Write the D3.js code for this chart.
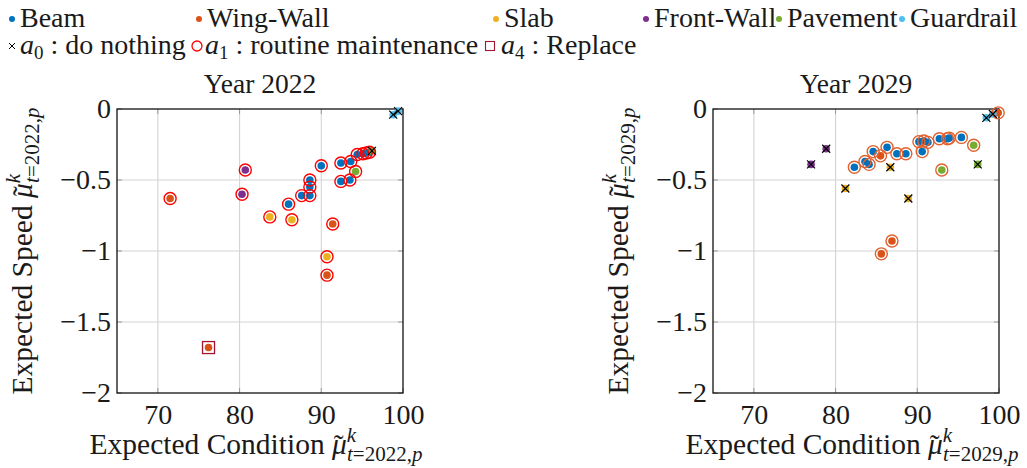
<!DOCTYPE html>
<html>
<head>
<meta charset="utf-8">
<script src="https://cdn.jsdelivr.net/npm/d3@7"></script>
<style>
  body { margin: 0; background: #fff; }
  svg text { font-family: "Liberation Serif", "DejaVu Serif", serif; fill: #1a1a1a; }
</style>
</head>
<body>
<div id="vis"></div>
<script>
// components and their colours
const components = ["Beam", "Wing-Wall", "Slab", "Front-Wall", "Pavement", "Guardrail"];
const compColors = ["#0072BD", "#D95319", "#EDB120", "#7E2F8E", "#77AC30", "#4DBEEE"];

// actions shown in the legend
const actionKeys = ["a0", "a1", "a4"];
const actionNames = ["do nothing", "routine maintenance", "Replace"];

const xTicks = [70, 80, 90, 100];
const yTicks = [0, -0.5, -1, -1.5, -2];
const years = [2022, 2029];

// year 2022 : condition, speed, component, action
const cond2022 = [90.0, 88.6, 88.6, 88.6, 87.6, 86.0, 92.4, 93.6, 92.4, 93.5, 94.4, 95.1, 95.5, 95.9,
                  96.2, 94.2, 80.7, 80.3, 71.5, 83.7, 86.4, 91.4, 90.7, 90.7, 76.2, 98.8, 99.4];
const speed2022 = [-0.40, -0.50, -0.55, -0.61, -0.61, -0.67, -0.38, -0.37, -0.51, -0.50, -0.32, -0.315, -0.31, -0.305,
                   -0.295, -0.44, -0.43, -0.60, -0.63, -0.76, -0.78, -0.81, -1.04, -1.17, -1.68, -0.04, -0.015];
const comp2022 = ["Beam", "Beam", "Beam", "Beam", "Beam", "Beam", "Beam", "Beam", "Beam", "Beam", "Beam", "Beam", "Beam", "Beam",
                  "Pavement", "Pavement", "Front-Wall", "Front-Wall", "Wing-Wall", "Slab", "Slab", "Wing-Wall", "Slab", "Wing-Wall", "Wing-Wall", "Guardrail", "Guardrail"];
const act2022 = ["a1", "a1", "a1", "a1", "a1", "a1", "a1", "a1", "a1", "a1", "a1", "a1", "a1", "a1",
                 "a0", "a1", "a1", "a1", "a1", "a1", "a1", "a1", "a1", "a1", "a4", "a0", "a0"];

// year 2029
const cond2029 = [99.9, 99.25, 98.45, 78.85, 77.0, 82.3, 83.6, 84.1, 84.6, 85.5, 86.3, 86.7, 81.2, 88.9, 87.5,
                  88.6, 90.6, 90.2, 90.8, 91.3, 92.7, 93.7, 93.9, 95.4, 96.9, 97.4, 93.0, 86.9, 85.6];
const speed2029 = [-0.027, -0.035, -0.062, -0.28, -0.39, -0.41, -0.37, -0.39, -0.30, -0.33, -0.27, -0.41, -0.56, -0.63, -0.315,
                   -0.315, -0.30, -0.23, -0.225, -0.235, -0.21, -0.21, -0.205, -0.20, -0.255, -0.39, -0.43, -0.93, -1.02];
const comp2029 = ["Wing-Wall", "Guardrail", "Guardrail", "Front-Wall", "Front-Wall", "Beam", "Beam", "Beam", "Beam", "Wing-Wall", "Beam", "Slab", "Slab", "Slab", "Beam",
                  "Beam", "Beam", "Beam", "Beam", "Beam", "Beam", "Beam", "Beam", "Beam", "Pavement", "Pavement", "Pavement", "Wing-Wall", "Wing-Wall"];
const act2029 = ["a1", "a0", "a0", "a0", "a0", "a1", "a1", "a1", "a1", "a1", "a1", "a0", "a0", "a0", "a1",
                 "a1", "a1", "a1", "a1", "a1", "a1", "a1", "a1", "a1", "a1", "a0", "a1", "a1", "a1"];

const toRows = (c, s, k, a) => c.map((v, i) => ({cond: v, speed: s[i], comp: k[i], act: a[i]}));
const data = [toRows(cond2022, speed2022, comp2022, act2022), toRows(cond2029, speed2029, comp2029, act2029)];

const W = 1027, H = 468;
const tickSize = 28, labelSize = 29.5, titleSize = 27.5, legendSize = 28;
const colorOf = d3.scaleOrdinal(components, compColors);
const circleColors = ["#FF0000", "#E2612E"];

const svg = d3.select("#vis").append("svg").attr("width", W).attr("height", H)
  .attr("font-family", "'Liberation Serif', serif");
svg.append("rect").attr("width", W).attr("height", H).attr("fill", "#fff");

// panel frames
const panels = [{left: 117, right: 403}, {left: 713, right: 999}];
const plotTop = 109, plotBottom = 393;

const xPath = d => `M${-4},${-4}L4,4M${-4},4L4,${-4}`;

// helper: text with math mu tilde + sup k + sub
const mathLabel = (sel, prefix, year) => {
  sel.append("tspan").text(prefix);
  sel.append("tspan").attr("font-style", "italic").text("\u03BC");
  sel.append("tspan").attr("dx", -13).attr("dy", 1).text("\u02DC");
  sel.append("tspan").attr("font-size", 21).attr("font-style", "italic").attr("dx", 3).attr("dy", -13).text("k");
  sel.append("tspan").attr("font-size", 21).attr("dx", -9).attr("dy", 19)
    .html(`<tspan font-style="italic">t</tspan>=${year},<tspan font-style="italic">p</tspan>`);
};

panels.forEach((p, pi) => {
  const x = d3.scaleLinear().domain([65, 100]).range([p.left, p.right]);
  const y = d3.scaleLinear().domain([-2, 0]).range([plotBottom, plotTop]);
  const g = svg.append("g");

  // grid
  g.selectAll("line.gx").data(xTicks.filter(t => t < 100)).enter().append("line")
    .attr("x1", d => x(d)).attr("x2", d => x(d)).attr("y1", plotTop).attr("y2", plotBottom)
    .attr("stroke", "#d4d4d4").attr("stroke-width", 1.1);
  g.selectAll("line.gy").data(yTicks.filter(t => t > -2 && t < 0)).enter().append("line")
    .attr("y1", d => y(d)).attr("y2", d => y(d)).attr("x1", p.left).attr("x2", p.right)
    .attr("stroke", "#d4d4d4").attr("stroke-width", 1.1);

  // inner tick marks
  xTicks.forEach(t => {
    g.append("line").attr("x1", x(t)).attr("x2", x(t)).attr("y1", plotTop).attr("y2", plotTop + 5).attr("stroke", "#999");
    g.append("line").attr("x1", x(t)).attr("x2", x(t)).attr("y1", plotBottom).attr("y2", plotBottom - 5).attr("stroke", "#999");
  });
  yTicks.forEach(t => {
    g.append("line").attr("y1", y(t)).attr("y2", y(t)).attr("x1", p.left).attr("x2", p.left + 5).attr("stroke", "#999");
    g.append("line").attr("y1", y(t)).attr("y2", y(t)).attr("x1", p.right).attr("x2", p.right - 5).attr("stroke", "#999");
  });

  // axes labels via d3 axes
  g.append("g").attr("transform", `translate(0,${plotBottom})`)
    .call(d3.axisBottom(x).tickValues(xTicks).tickSize(0).tickPadding(11).tickFormat(d3.format("d")))
    .call(a => a.select(".domain").remove())
    .call(a => a.attr("font-family", null).attr("font-size", null))
    .selectAll("text").attr("font-size", tickSize).attr("fill", null);
  g.append("g").attr("transform", `translate(${p.left},0)`)
    .call(d3.axisLeft(y).tickValues(yTicks).tickSize(0).tickPadding(6).tickFormat(d3.format("")))
    .call(a => a.select(".domain").remove())
    .call(a => a.attr("font-family", null).attr("font-size", null))
    .selectAll("text").attr("font-size", tickSize).attr("fill", null);

  // frame
  g.append("rect").attr("x", p.left).attr("y", plotTop).attr("width", p.right - p.left).attr("height", plotBottom - plotTop)
    .attr("fill", "none").attr("stroke", "#111").attr("stroke-width", 1.3);

  // title
  g.append("text").attr("x", (p.left + p.right) / 2).attr("y", 93).attr("text-anchor", "middle")
    .attr("font-size", titleSize).text(`Year ${years[pi]}`);

  // x label
  const xl = g.append("text").attr("x", (p.left + p.right) / 2 - 4).attr("y", 454).attr("text-anchor", "middle")
    .attr("font-size", labelSize);
  mathLabel(xl, "Expected Condition ", years[pi]);

  // y label
  const yl = g.append("text").attr("transform", `translate(${p.left - 85},${(plotTop + plotBottom) / 2}) rotate(-90)`)
    .attr("text-anchor", "middle").attr("font-size", labelSize);
  mathLabel(yl, "Expected Speed ", years[pi]);

  // dots
  const rows = data[pi];
  g.selectAll("circle.dot").data(rows).enter().append("circle")
    .attr("cx", d => x(d.cond)).attr("cy", d => y(d.speed)).attr("r", 3.8)
    .attr("fill", d => colorOf(d.comp));

  // action markers
  g.selectAll("circle.a1").data(rows.filter(d => d.act === "a1")).enter().append("circle")
    .attr("cx", d => x(d.cond)).attr("cy", d => y(d.speed)).attr("r", 6)
    .attr("fill", "none").attr("stroke", circleColors[pi]).attr("stroke-width", 1.4);
  g.selectAll("path.a0").data(rows.filter(d => d.act === "a0")).enter().append("path")
    .attr("transform", d => `translate(${x(d.cond)},${y(d.speed)})`)
    .attr("d", xPath).attr("stroke", "#000").attr("stroke-width", 1.2);
  g.selectAll("rect.a4").data(rows.filter(d => d.act === "a4")).enter().append("rect")
    .attr("x", d => x(d.cond) - 6).attr("y", d => y(d.speed) - 6).attr("width", 12).attr("height", 12)
    .attr("fill", "none").attr("stroke", "#A2142F").attr("stroke-width", 1.3);
});

// legend row 1: components
const legX1 = [12, 199, 496, 646, 779, 902];
const leg1 = svg.append("g");
components.forEach((c, i) => {
  leg1.append("circle").attr("cx", legX1[i]).attr("cy", 19).attr("r", 3).attr("fill", compColors[i]);
  leg1.append("text").attr("x", legX1[i] + 8).attr("y", 27).attr("font-size", legendSize).text(c);
});

// legend row 2: actions
const legX2 = [12, 197, 490];
const leg2 = svg.append("g");
leg2.append("path").attr("transform", `translate(${legX2[0]},46)`).attr("d", "M-3,-3L3,3M-3,3L3,-3")
  .attr("stroke", "#000").attr("stroke-width", 1);
leg2.append("circle").attr("cx", legX2[1]).attr("cy", 46).attr("r", 5)
  .attr("fill", "none").attr("stroke", "#FF0000").attr("stroke-width", 1.3);
leg2.append("rect").attr("x", legX2[2] - 4.5).attr("y", 41.5).attr("width", 9).attr("height", 9)
  .attr("fill", "none").attr("stroke", "#A2142F").attr("stroke-width", 1.1);
actionKeys.forEach((k, i) => {
  const t = leg2.append("text").attr("x", legX2[i] + (i === 2 ? 11 : 8)).attr("y", 54).attr("font-size", legendSize);
  t.append("tspan").attr("font-style", "italic").text("a");
  t.append("tspan").attr("font-size", 19).attr("dy", 5).text(k.slice(1));
  t.append("tspan").attr("dy", -5).text(` : ${actionNames[i]}`);
});
</script>
</body>
</html>
